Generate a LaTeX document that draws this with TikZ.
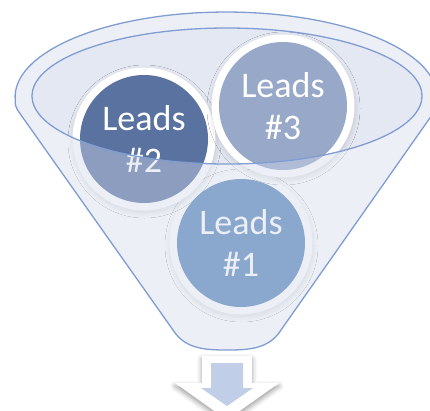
\documentclass[tikz,border=0pt]{standalone}
\usepackage{fontspec}
\setmainfont{Carlito}
\usetikzlibrary{shadows.blur}

\definecolor{rimline}{HTML}{7F9DD3}
\definecolor{mouth}{HTML}{E4E8F2}
\definecolor{glass}{HTML}{D2DAEB}
\definecolor{leadsA}{HTML}{5783B9}
\definecolor{leadsB}{HTML}{5A72A0}
\definecolor{leadsC}{HTML}{98A8C8}
\definecolor{arrowfill}{HTML}{C0CFE7}

\tikzset{
  ring/.style={circle, fill=white, inner sep=0pt, minimum size=143pt,
    blur shadow={shadow xshift=0.5pt, shadow yshift=-2.5pt,
      shadow blur radius=5pt, shadow blur steps=10, shadow opacity=14}},
  lead/.style={circle, inner sep=0pt, minimum size=128pt, text=white,
    align=center, font=\fontsize{36}{42}\selectfont},
  funnelline/.style={draw=rimline, line width=1.3pt},
}

\begin{document}
\begin{tikzpicture}[x=1pt, y=-1pt]
\useasboundingbox (0,0) rectangle (430,410);

% outline of the funnel: top rim arc, two sides, rounded spout
\def\funnelpath{
  (17.5,110) .. controls (15.5,107) and (15,104) .. (15.2,100)
  arc[start angle=178, end angle=362, x radius=211, y radius=85]
  .. controls (438,104) and (437.5,107) .. (435.5,110)
  -- (281,330) .. controls (269,349) and (249,350) .. (227,350)
  .. controls (205,350) and (185,349) .. (173,330) -- cycle}

% body and mouth
\fill[white] \funnelpath;
\fill[mouth] (227,96) ellipse[x radius=195, y radius=68];

% the three lead balls inside the funnel
\node[ring] (r1) at (241,243) {};
\node[lead, fill=leadsA] (l1) at (241,243) {Leads\\\#1};
\node[ring] (r2) at (144,139) {};
\node[lead, fill=leadsB] (l2) at (144,139) {Leads\\\#2};
\node[ring] (r3) at (283,106) {};
\node[lead, fill=leadsC] (l3) at (283,106) {Leads\\\#3};

% translucent front wall of the funnel
\fill[glass, fill opacity=0.42, even odd rule]
  \funnelpath (227,96) ellipse[x radius=195, y radius=68];

% outlines
\draw[funnelline] \funnelpath;
\draw[funnelline] (227,96) ellipse[x radius=195, y radius=68];

% output arrow below the spout
\fill[white, blur shadow={shadow xshift=0pt, shadow yshift=-3pt,
      shadow blur radius=5pt, shadow opacity=40}]
  (202,356) -- (252,356) -- (252,383) -- (279,383) -- (227,420)
  -- (175,383) -- (202,383) -- cycle;
\fill[arrowfill]
  (211,363) -- (243,363) -- (243,388) -- (253,388) -- (227,406)
  -- (201,388) -- (211,388) -- cycle;
\end{tikzpicture}
\end{document}
